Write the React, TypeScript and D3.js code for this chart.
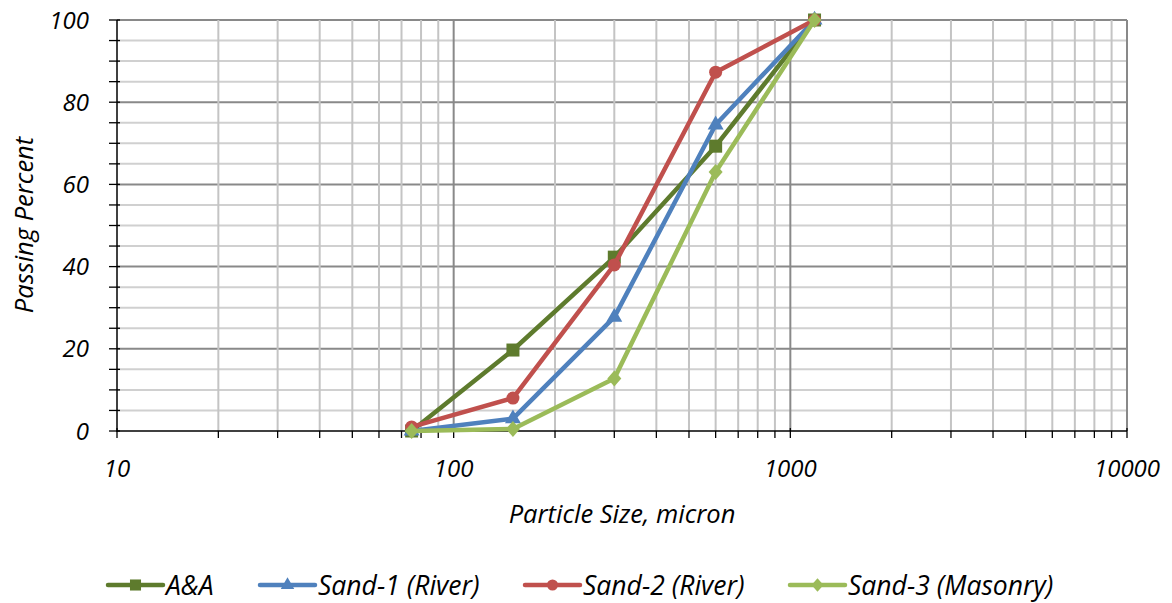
import React, { useEffect, useRef } from "react";
import * as d3 from "d3";

const sizes = [75, 150, 300, 600, 1180];
const seriesNames = ["A&A", "Sand-1 (River)", "Sand-2 (River)", "Sand-3 (Masonry)"];
const aaValues = [0, 19.7, 42.3, 69.3, 100];
const sand1Values = [0, 3, 27.7, 74.5, 100];
const sand2Values = [1, 8, 40.4, 87.3, 100];
const sand3Values = [0, 0.5, 12.8, 63, 100];
const colors = ["#5E7B2D", "#4F81BD", "#C0504D", "#9BBB59"];
const markers = ["square", "triangle", "circle", "diamond"];
const xTickLabels = [10, 100, 1000, 10000];
const yTickLabels = [0, 20, 40, 60, 80, 100];

const W = 1172, H = 603;
const M = { left: 117, right: 1127, top: 20, bottom: 431 };
const FONT = "'Open Sans', sans-serif";

export default function App() {
  const ref = useRef<SVGSVGElement>(null);
  useEffect(() => {
    const svg = d3.select(ref.current);
    svg.selectAll("*").remove();
    const x = d3.scaleLog().domain([10, 10000]).range([M.left, M.right]);
    const y = d3.scaleLinear().domain([0, 100]).range([M.bottom, M.top]);

    const g = svg.append("g");
    for (let v = 5; v <= 100; v += 5) {
      const major = v % 20 === 0;
      g.append("line").attr("x1", M.left).attr("x2", M.right)
        .attr("y1", y(v)).attr("y2", y(v))
        .attr("stroke", major ? "#898989" : "#d0d0d0").attr("stroke-width", 2);
    }
    const xMinor: number[] = [];
    for (let dec = 10; dec < 10000; dec *= 10) {
      for (let k = 1; k <= 10; k++) xMinor.push(dec * k);
    }
    const uniq = Array.from(new Set(xMinor)).filter(v => v > 10);
    uniq.forEach(v => {
      const major = Math.abs(Math.log10(v) - Math.round(Math.log10(v))) < 1e-9;
      g.append("line").attr("x1", x(v)).attr("x2", x(v))
        .attr("y1", M.top).attr("y2", M.bottom)
        .attr("stroke", major ? "#898989" : "#c4c4c4").attr("stroke-width", 2);
    });

    const ax = svg.append("g");
    ax.append("line").attr("x1", M.left).attr("x2", M.left).attr("y1", M.top).attr("y2", M.bottom + 1)
      .attr("stroke", "#000").attr("stroke-width", 1.5);
    ax.append("line").attr("x1", M.left).attr("x2", M.right).attr("y1", M.bottom).attr("y2", M.bottom)
      .attr("stroke", "#000").attr("stroke-width", 1.5);
    for (let v = 0; v <= 100; v += 5) {
      ax.append("line").attr("x1", M.left - 8).attr("x2", M.left + 3).attr("y1", y(v)).attr("y2", y(v))
        .attr("stroke", "#000").attr("stroke-width", 1.3);
    }
    [10, ...uniq].forEach(v => {
      const major = Math.abs(Math.log10(v) - Math.round(Math.log10(v))) < 1e-9;
      ax.append("line").attr("x1", x(v)).attr("x2", x(v))
        .attr("y1", major ? M.bottom - 3 : M.bottom).attr("y2", M.bottom + 7)
        .attr("stroke", "#000").attr("stroke-width", 1.3);
    });

    yTickLabels.forEach(v => {
      svg.append("text").attr("x", 89).attr("y", y(v)).attr("dy", "0.36em")
        .attr("text-anchor", "end").attr("font-family", FONT).attr("font-style", "italic")
        .attr("font-size", 24).attr("fill", "#000").text(String(v));
    });
    xTickLabels.forEach(v => {
      svg.append("text").attr("x", x(v)).attr("y", 468).attr("dy", "0.36em")
        .attr("text-anchor", "middle").attr("font-family", FONT).attr("font-style", "italic")
        .attr("font-size", 24).attr("fill", "#000").text(String(v));
    });
    svg.append("text").attr("x", 622).attr("y", 514).attr("dy", "0.36em")
      .attr("text-anchor", "middle").attr("font-family", FONT).attr("font-style", "italic")
      .attr("font-size", 25.5).attr("fill", "#000").text("Particle Size, micron");
    svg.append("text").attr("transform", `translate(24,${225}) rotate(-90)`)
      .attr("dy", "0.36em").attr("text-anchor", "middle").attr("font-family", FONT).attr("font-style", "italic")
      .attr("font-size", 25.5).attr("fill", "#000").text("Passing Percent");

    const allValues = [aaValues, sand1Values, sand2Values, sand3Values];
    const drawMarker = (sel: any, type: string, cx: number, cy: number, color: string, s = 1) => {
      if (type === "square") {
        sel.append("rect").attr("x", cx - 6.5 * s).attr("y", cy - 6.5 * s).attr("width", 13 * s).attr("height", 13 * s).attr("fill", color);
      } else if (type === "triangle") {
        sel.append("path").attr("d", d3.symbol(d3.symbolTriangle, 110 * s * s)()).attr("transform", `translate(${cx},${cy})`).attr("fill", color);
      } else if (type === "circle") {
        sel.append("circle").attr("cx", cx).attr("cy", cy).attr("r", 6.5 * s).attr("fill", color);
      } else {
        sel.append("path").attr("d", `M0,${-8 * s}L${7 * s},0L0,${8 * s}L${-7 * s},0Z`).attr("transform", `translate(${cx},${cy})`).attr("fill", color);
      }
    };
    const line = d3.line<number>().x((_, i) => x(sizes[i])).y(d => y(d));
    allValues.forEach((vals, si) => {
      const sg = svg.append("g");
      sg.append("path").attr("d", line(vals)).attr("fill", "none").attr("stroke", colors[si])
        .attr("stroke-width", 4.5).attr("stroke-linejoin", "round").attr("stroke-linecap", "round");
      vals.forEach((v, i) => drawMarker(sg, markers[si], x(sizes[i]), y(v), colors[si]));
    });

    const legendX = [108, 260, 525, 790];
    seriesNames.forEach((name, si) => {
      const lg = svg.append("g");
      const lx = legendX[si];
      lg.append("line").attr("x1", lx).attr("x2", lx + 55).attr("y1", 585).attr("y2", 585)
        .attr("stroke", colors[si]).attr("stroke-width", 4.5).attr("stroke-linecap", "round");
      drawMarker(lg, markers[si], lx + 27.5, 585, colors[si], 0.85);
      lg.append("text").attr("x", lx + 58).attr("y", 585).attr("dy", "0.36em")
        .attr("font-family", FONT).attr("font-style", "italic").attr("font-size", 26.5).attr("fill", "#000").text(name);
    });
  }, []);
  return (
    <svg ref={ref} width={W} height={H} style={{ position: "absolute", left: 0, top: 0, background: "#fff" }} />
  );
}
